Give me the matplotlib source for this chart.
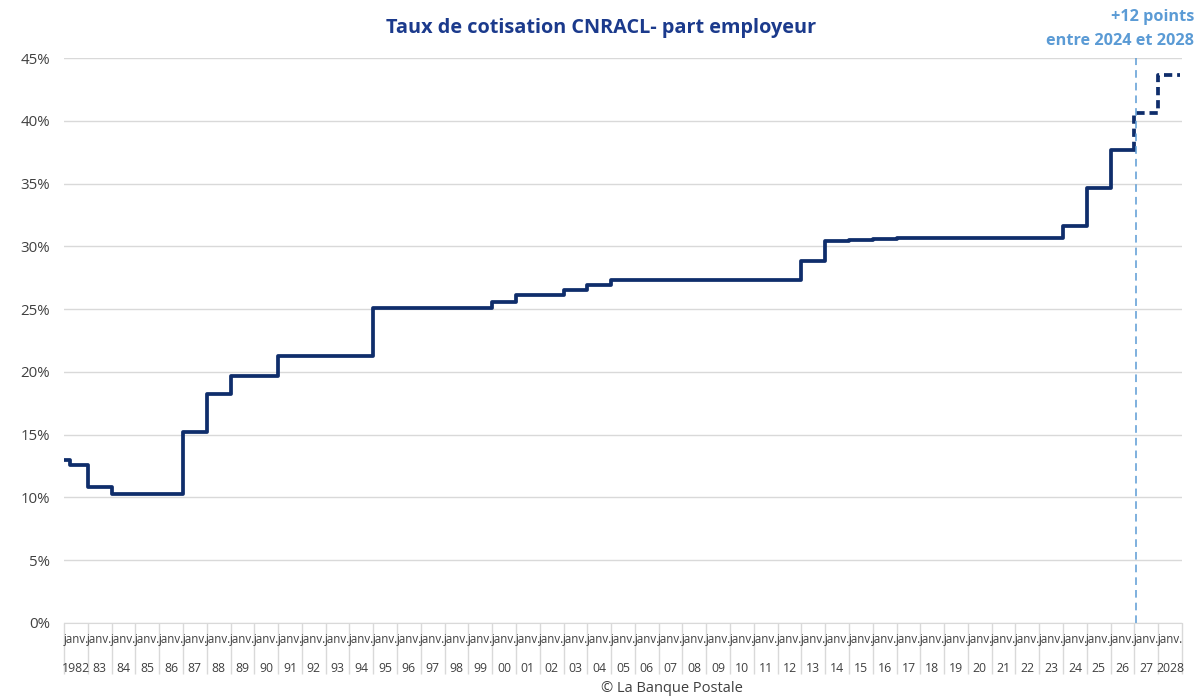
import matplotlib
matplotlib.use("Agg")
import matplotlib.pyplot as plt
import matplotlib.transforms as mtransforms

plt.rcParams['font.family'] = ['Open Sans', 'DejaVu Sans']

# taux de cotisation (%) - dates de changement
years_hist = [1982.0, 1982.25, 1983.0, 1984.0, 1987.0, 1988.0, 1989.0, 1991.0, 1995.0,
              2000.0, 2001.0, 2003.0, 2004.0, 2005.0, 2013.0, 2014.0, 2015.0, 2016.0,
              2017.0, 2024.0, 2025.0, 2026.0, 2027.0]
rates_hist = [13.0, 12.6, 10.8, 10.3, 15.2, 18.2, 19.7, 21.3, 25.1,
              25.6, 26.1, 26.5, 26.9, 27.3, 28.85, 30.4, 30.5, 30.6,
              30.65, 31.65, 34.65, 37.65, 37.65]
# projection
years_proj = [2027.0, 2027.0, 2028.0, 2028.9]
rates_proj = [37.65, 40.65, 43.65, 43.65]

year_labels = ["1982"] + ["%02d" % (y % 100) for y in range(1983, 2028)] + ["2028"]
first_year = 1982
yticks = [0, 5, 10, 15, 20, 25, 30, 35, 40, 45]

navy = '#0f2d6b'
grid_c = '#d9d9d9'

fig = plt.figure(figsize=(12.03, 6.98), dpi=100)
ax = fig.add_axes([64/1203, 75/698, (1182-64)/1203, (623-58)/698])

ax.step(years_hist, rates_hist, where='post', color=navy, lw=2.7, solid_joinstyle='round')
ax.step(years_proj, rates_proj, where='post', color=navy, lw=2.7, dashes=(2.2, 1.3))
ax.axvline(2027.05, ymin=0, ymax=1, color='#5b9bd5', lw=1.1, dashes=(5, 3.3), clip_on=False)

ax.set_xlim(first_year, first_year + len(year_labels))
ax.set_ylim(0, 45)
ax.set_yticks(yticks)
ax.set_yticklabels(["%d%%" % v for v in yticks], color='#404040', fontsize=10.8)
ax.yaxis.grid(True, color=grid_c, lw=1)
ax.set_axisbelow(True)
ax.tick_params(axis='y', length=0, pad=10)

xt = list(range(first_year, first_year + len(year_labels) + 1))
ax.set_xticks(xt)
ax.set_xticklabels([])
ax.tick_params(axis='x', length=37, color=grid_c, width=1)

for s in ['top', 'right', 'left']:
    ax.spines[s].set_visible(False)
ax.spines['bottom'].set_color(grid_c)

trans = mtransforms.blended_transform_factory(ax.transData, fig.transFigure)
for i, lab in enumerate(year_labels):
    x = first_year + i + 0.5
    ax.text(x, 1 - 640/698, "janv.", transform=trans, ha='center', va='center',
            fontsize=8.3, color='#404040')
    ax.text(x, 1 - 668/698, lab, transform=trans, ha='center', va='center',
            fontsize=8.8, color='#404040')

fig.text(601/1203, 1 - 28/698, "Taux de cotisation CNRACL- part employeur",
         ha='center', va='center', fontsize=14.3, fontweight='bold', color='#1b3a8c')
fig.text(1194/1203, 1 - 17/698, "+12 points", ha='right', va='center',
         fontsize=11.7, fontweight='bold', color='#5b9bd5')
fig.text(1194/1203, 1 - 41/698, "entre 2024 et 2028", ha='right', va='center',
         fontsize=11.7, fontweight='bold', color='#5b9bd5')
fig.text(672/1203, 1 - 689/698, "© La Banque Postale", ha='center', va='center',
         fontsize=10.5, color='#404040')

fig.savefig("out.png", dpi=100)
